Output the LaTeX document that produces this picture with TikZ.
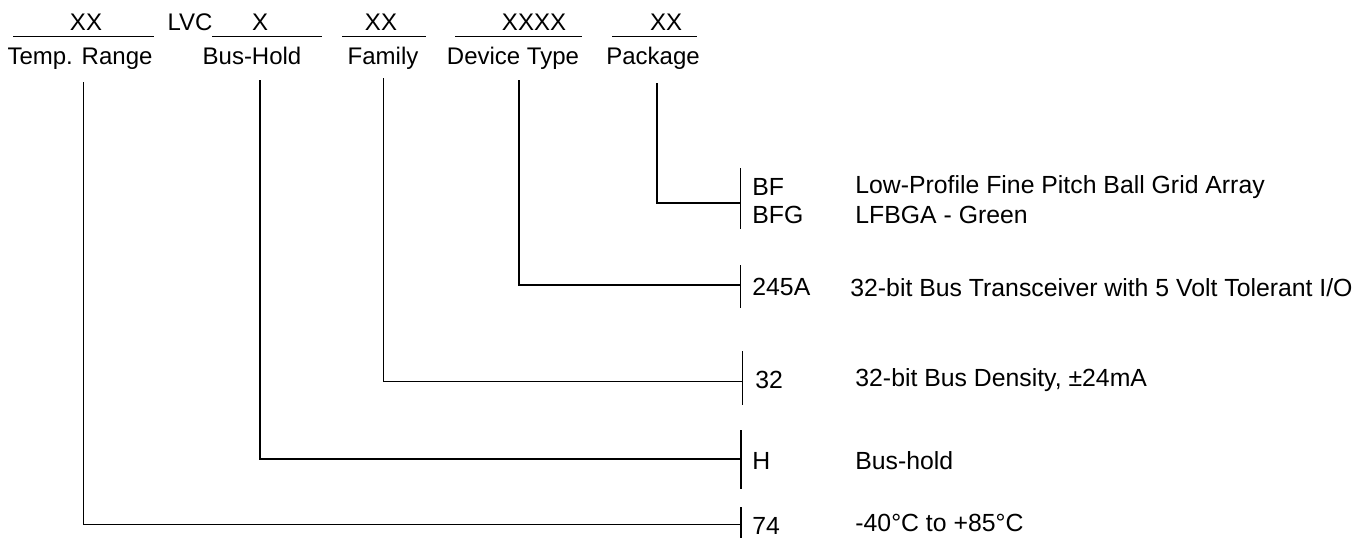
\documentclass[tikz,border=0pt]{standalone}
\usepackage{fontspec}
\setmainfont{Liberation Sans}
\usepackage{tikz}

\tikzset{
  field/.style={inner sep=0pt, anchor=base, font=\fontsize{12}{14}\selectfont},
  code/.style={inner sep=0pt, anchor=west, font=\fontsize{12.4}{14}\selectfont},
  thinline/.style={line width=0.5pt},
  thickline/.style={line width=1pt}
}

\begin{document}
\begin{tikzpicture}[x=0.5pt,y=-0.5pt]
\useasboundingbox (0,0) rectangle (1364,542);
% top row: part number fields
\node[field] (rangeX) at (86,30) {XX};
\node[field] (lvc) at (190,30) {LVC};
\node[field] (holdX) at (260,30) {X};
\node[field] (familyX) at (381,30) {XX};
\node[field] (deviceX) at (534,30) {XXXX};
\node[field] (packageX) at (666,30) {XX};
\draw[thinline] (13,36) -- (154,36);
\draw[thinline] (212,36) -- (322,36);
\draw[thinline] (342,36) -- (426,36);
\draw[thinline] (455,36) -- (582,36);
\draw[thinline] (612,36) -- (697,36);
% field names
\node[field] (range) at (80,64) {Temp. Range};
\node[field] (hold) at (252,64) {Bus-Hold};
\node[field] (family) at (383,64) {Family};
\node[field] (device) at (513,64) {Device Type};
\node[field] (package) at (653,64) {Package};
% start and end points of the leaders
\coordinate (rangeTop) at (83,82);
\coordinate (holdTop) at (260,80);
\coordinate (familyTop) at (383,78);
\coordinate (deviceTop) at (519,80);
\coordinate (packageTop) at (657,83);
\coordinate (packageEnd) at (740,203);
\coordinate (deviceEnd) at (740,285);
\coordinate (familyEnd) at (742,381);
\coordinate (holdEnd) at (741,459);
\coordinate (rangeEnd) at (741,524);
\draw[thickline] (packageTop) |- (packageEnd);
\draw[thickline] (deviceTop) |- (deviceEnd);
\draw[thinline] (familyTop) |- (familyEnd);
\draw[thickline] (holdTop) |- (holdEnd);
\draw[thinline] (rangeTop) |- (rangeEnd);
% ticks
\draw[thinline] (740,168) -- (740,229);
\draw[thinline] (740,265) -- (740,308);
\draw[thinline] (742,351) -- (742,405);
\draw[thickline] (741,430) -- (741,489);
\draw[thickline] (741,507) -- (741,538);
% codes and meanings
\node[code] (bf) at (752,187) {BF};
\node[code] (bfg) at (752,215) {BFG};
\node[code] (dev) at (752,287) {245A};
\node[code] (fam) at (755,380) {32};
\node[code] (hh) at (752,461) {H};
\node[code] (temp) at (752,526) {74};
\node[code] (bfText) at (855,187) {Low-Profile Fine Pitch Ball Grid Array};
\node[code] (bfgText) at (855,215) {LFBGA - Green};
\node[code] (devText) at (850,288) {32-bit Bus Transceiver with 5 Volt Tolerant I/O};
\node[code] (famText) at (855,380) {32-bit Bus Density, ±24mA};
\node[code] (hhText) at (855,461) {Bus-hold};
\node[code] (tempText) at (855,523) {-40°C to +85°C};
\end{tikzpicture}
\end{document}
